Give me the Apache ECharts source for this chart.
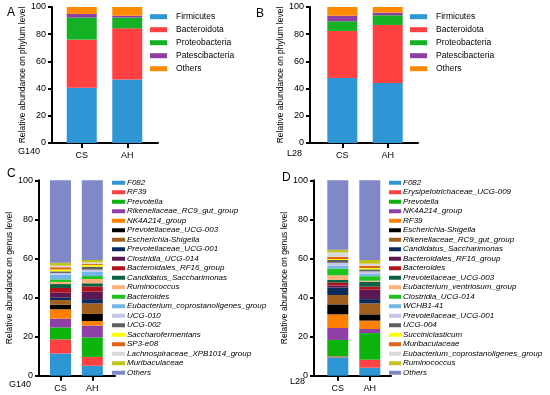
<!DOCTYPE html>
<html>
<head>
<meta charset="utf-8">
<script src="https://cdn.jsdelivr.net/npm/echarts@6/dist/echarts.min.js"></script>
<style>
html,body{margin:0;padding:0;background:#fff;}
#chart{width:550px;height:395px;}
</style>
</head>
<body>
<div id="chart"></div>
<script>
// ---------------- data ----------------
const groups = ['CS', 'AH'];

const phyla = ['Firmicutes', 'Bacteroidota', 'Proteobacteria', 'Patescibacteria', 'Others'];
const phylumG140CS = [40.7, 35.3, 16.2, 2.7, 5.1];
const phylumG140AH = [46.6, 37.7, 7.9, 1.4, 6.4];
const phylumL28CS = [47.8, 34.6, 7.1, 4.1, 6.4];
const phylumL28AH = [44.1, 42.7, 7.1, 1.9, 4.2];

const generaG140 = ['F082', 'RF39', 'Prevotella', 'Rikenellaceae_RC9_gut_group', 'NK4A214_group',
  'Prevotellaceae_UCG-003', 'Escherichia-Shigella', 'Prevotellaceae_UCG-001', 'Clostridia_UCG-014',
  'Bacteroidales_RF16_group', 'Candidatus_Saccharimonas', 'Ruminococcus', 'Bacteroides',
  'Eubacterium_coprostanoligenes_group', 'UCG-010', 'UCG-002', 'Saccharofermentans', 'SP3-e08',
  'Lachnospiraceae_XPB1014_group', 'Muribaculaceae', 'Others'];
const genusG140CS = [11.4, 7.2, 6.1, 4.5, 4.8, 2.3, 2.4, 1.2, 2.6, 2.4, 2.0, 1.1, 1.3, 2.4, 0.9, 0.8, 1.0, 1.1, 0.8, 1.5, 42.2];
const genusG140AH = [5.1, 4.5, 10.0, 6.0, 2.4, 3.6, 5.4, 2.2, 3.8, 2.7, 1.6, 2.2, 1.5, 2.2, 1.1, 1.5, 0.9, 0.6, 0.7, 1.2, 40.8];

const generaL28 = ['F082', 'Erysipelotrichaceae_UCG-009', 'Prevotella', 'NK4A214_group', 'RF39',
  'Escherichia-Shigella', 'Rikenellaceae_RC9_gut_group', 'Candidatus_Saccharimonas',
  'Bacteroidales_RF16_group', 'Bacteroides', 'Prevotellaceae_UCG-003', 'Eubacterium_ventriosum_group',
  'Clostridia_UCG-014', 'WCHB1-41', 'Prevotellaceae_UCG-001', 'UCG-004', 'Succiniclasticum',
  'Muribaculaceae', 'Eubacterium_coprostanoligenes_group', 'Ruminococcus', 'Others'];
const genusL28CS = [9.4, 0.5, 8.4, 6.1, 7.0, 5.1, 4.8, 3.8, 1.0, 1.5, 1.4, 2.4, 3.4, 1.5, 1.5, 1.4, 0.5, 1.1, 2.3, 1.4, 35.5];
const genusL28AH = [4.1, 4.1, 13.6, 2.1, 4.3, 3.2, 5.6, 2.2, 4.8, 1.6, 2.5, 0.5, 2.3, 1.1, 1.4, 1.0, 0.7, 1.2, 1.0, 1.9, 40.8];

const yMin = 0, yMax = 100, yStep = 20;

// ---------------- styles ----------------
const phylumColors = ['#2F96D6', '#FF4141', '#14B124', '#8D3FA2', '#FF8A00'];
const genusColors = ['#2F96D6', '#FF4141', '#0DB40D', '#8E40A6', '#FF8000', '#000000', '#A1601E',
  '#0B2A5E', '#5C1852', '#B0121F', '#0B6141', '#FFB27C', '#1EC31E', '#72B5E6', '#C5C5EC',
  '#5F5F5F', '#FFFF00', '#E0611A', '#D9D9D9', '#C2C21E', '#8088C8'];
const FONT = 'Liberation Sans, Arial, Helvetica, sans-serif';

const panels = [
  { letter: 'A', letterPos: [7, 7], site: 'G140', sitePos: [18, 147.5], taxa: phyla, cs: phylumG140CS, ah: phylumG140AH,
    colors: phylumColors, frame: { left: 52, width: 106, top: 7, height: 136 }, bars: { left: 59, width: 91 },
    barWidth: 30, yName: 'Relative abundance on phylum level', nameGap: 25,
    legend: { left: 150, top: 10.2, w: 17, h: 5, lh: 13, fs: 8.5, italic: false, pad: 4 } },
  { letter: 'B', letterPos: [256, 8], site: 'L28', sitePos: [287, 149.5], taxa: phyla, cs: phylumL28CS, ah: phylumL28AH,
    colors: phylumColors, frame: { left: 310, width: 108, top: 7, height: 136 }, bars: { left: 319.6, width: 90.8 },
    barWidth: 30, yName: 'Relative abundance on phylum level', nameGap: 23,
    legend: { left: 410, top: 10.2, w: 17, h: 5, lh: 13, fs: 8.5, italic: false, pad: 4 } },
  { letter: 'C', letterPos: [7, 168], site: 'G140', sitePos: [9, 380.5], taxa: generaG140, cs: genusG140CS, ah: genusG140AH,
    colors: genusColors, frame: { left: 39, width: 76, top: 180.3, height: 195.4 }, bars: { left: 44.6, width: 63.6 },
    barWidth: 21, yName: 'Relative abundance on genus level', nameGap: 24,
    legend: { left: 112, top: 178, w: 13, h: 4, lh: 9.5, fs: 8, italic: true, pad: -3 } },
  { letter: 'D', letterPos: [282, 172], site: 'L28', sitePos: [290, 377.5], taxa: generaL28, cs: genusL28CS, ah: genusL28AH,
    colors: genusColors, frame: { left: 314, width: 77, top: 180.3, height: 195.4 }, bars: { left: 321.8, width: 64 },
    barWidth: 21, yName: 'Relative abundance on genus level', nameGap: 22,
    legend: { left: 389, top: 178, w: 12, h: 4, lh: 9.5, fs: 8, italic: true, pad: -3 } }
];

const grid = [], xAxis = [], yAxis = [], series = [], legend = [], title = [];
const black = '#000';

panels.forEach((p, pi) => {
  const fi = pi * 2, bi = pi * 2 + 1;
  grid.push({ left: p.frame.left, width: p.frame.width, top: p.frame.top, height: p.frame.height, containLabel: false });
  grid.push({ left: p.bars.left, width: p.bars.width, top: p.frame.top, height: p.frame.height, containLabel: false });

  // frame axes: x-axis line + visible y-axis
  xAxis.push({ gridIndex: fi, type: 'value', min: 0, max: 1,
    axisLine: { show: true, onZero: false, lineStyle: { color: black, width: 2 } },
    axisTick: { show: false }, axisLabel: { show: false }, splitLine: { show: false } });
  yAxis.push({ gridIndex: fi, type: 'value', min: yMin, max: yMax, interval: yStep,
    name: p.yName, nameLocation: 'middle', nameGap: p.nameGap,
    nameTextStyle: { fontSize: 8.5, color: black, fontFamily: FONT },
    axisLine: { show: true, lineStyle: { color: black, width: 2 } },
    axisTick: { show: true, length: 4, lineStyle: { color: black, width: 2 } },
    axisLabel: { fontSize: 9, color: black, margin: 6, fontFamily: FONT },
    splitLine: { show: false } });

  // bars axes
  xAxis.push({ gridIndex: bi, type: 'category', data: groups,
    axisLine: { show: false },
    axisTick: { show: true, alignWithLabel: true, length: 5, lineStyle: { color: black, width: 2 } },
    axisLabel: { fontSize: 9, color: black, margin: 8, fontFamily: FONT },
    splitLine: { show: false } });
  yAxis.push({ gridIndex: bi, type: 'value', min: yMin, max: yMax, show: false, splitLine: { show: false } });

  p.taxa.forEach((name, i) => {
    series.push({ type: 'bar', name: name, xAxisIndex: bi, yAxisIndex: bi, stack: 'panel' + pi,
      barWidth: p.barWidth, data: [p.cs[i], p.ah[i]],
      itemStyle: { color: p.colors[i] }, emphasis: { disabled: true } });
  });

  const L = p.legend;
  legend.push({ orient: 'vertical', left: L.left, top: L.top, padding: 0, itemGap: 0,
    itemWidth: L.w, itemHeight: L.h, icon: 'rect', selectedMode: false,
    textStyle: { fontSize: L.fs, color: black, fontFamily: FONT, fontStyle: L.italic ? 'italic' : 'normal',
      lineHeight: L.lh, padding: [0, 0, 0, L.pad] },
    data: p.taxa.map((n, i) => ({ name: n, itemStyle: { color: p.colors[i] } })) });

  title.push({ text: p.letter, left: p.letterPos[0], top: p.letterPos[1], padding: 0,
    textStyle: { fontSize: 12, fontWeight: 'normal', color: black, fontFamily: FONT } });
  title.push({ text: p.site, left: p.sitePos[0], top: p.sitePos[1], padding: 0,
    textStyle: { fontSize: 9, fontWeight: 'normal', color: black, fontFamily: FONT } });
});

const chart = echarts.init(document.getElementById('chart'), null, { renderer: 'canvas' });
chart.setOption({
  animation: false,
  backgroundColor: '#fff',
  textStyle: { fontFamily: FONT },
  title: title, grid: grid, xAxis: xAxis, yAxis: yAxis, legend: legend, series: series,
  tooltip: { show: false }
});
</script>
</body>
</html>
